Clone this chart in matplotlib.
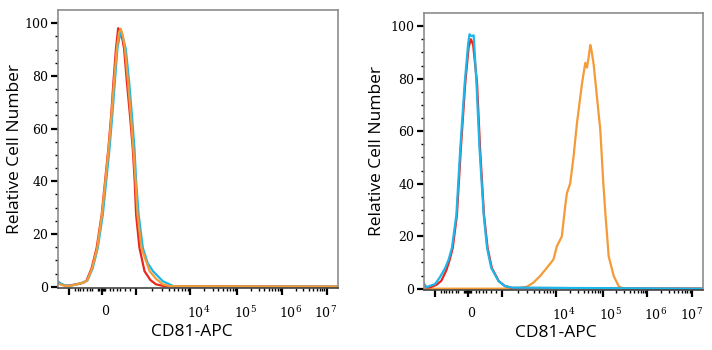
"""CD81-APC histogramas (dos paneles)"""
import matplotlib.pyplot as plt
import numpy as np

# posiciones de las decadas en unidades de canal (eje biexponencial)
decadas = [40, 156, 278, 472, 640, 801, 959]
etiquetas = ["0", "$\\mathregular{10^{4}}$", "$\\mathregular{10^{5}}$",
             "$\\mathregular{10^{6}}$", "$\\mathregular{10^{7}}$"]
pos_etiquetas = [156, 472, 640, 801, 959]

# panel izquierdo
rojo1_x = [0, 10, 30, 60, 90, 102, 120, 138, 156, 168, 180, 190, 198, 207, 215,
           222, 230, 236, 246, 257, 267, 274, 279, 291, 309, 330, 350, 380, 1000]
rojo1_y = [1.8, 1.0, 0.3, 0.8, 1.5, 2.3, 7, 14.7, 27.3, 39.9, 52.5, 65.1, 77.7, 90.3, 98.1,
           96, 94, 90.3, 77.7, 65.1, 52.5, 39.9, 27.3, 14.7, 5.9, 2.5, 0.9, 0.2, 0]
cian1_x = [0, 10, 25, 50, 80, 105, 124, 142, 160, 172, 184, 194, 203, 212, 220,
           227, 233, 242, 254, 264, 273, 279, 288, 303, 320, 339, 374, 400, 417, 1000]
cian1_y = [2.0, 1.2, 0.4, 0.5, 1.2, 2.3, 7, 14.7, 27.3, 39.9, 52.5, 65.1, 77.7, 90.3, 95,
           96.6, 94, 90.3, 77.7, 65.1, 52.5, 39.9, 27.3, 14.7, 9, 5.9, 2.1, 0.8, 0, 0]
naranja1_x = [0, 15, 35, 60, 90, 104, 122, 140, 157, 169, 181, 191, 200, 210, 218,
              224, 232, 239, 250, 260, 269, 277, 284, 298, 327, 350, 374, 400, 1000]
naranja1_y = [1.2, 0.6, 0.2, 0.7, 1.5, 2.3, 7, 14.7, 27.3, 39.9, 52.5, 65.1, 77.7, 90.3, 96.5,
              97.9, 95, 90.3, 77.7, 65.1, 52.5, 39.9, 27.3, 14.7, 5.9, 3, 0.9, 0.2, 0]

# panel derecho
rojo2_x = [0, 10, 25, 45, 62, 80, 92, 103, 118, 132, 148, 160, 168, 176,
           190, 201, 215, 228, 243, 268, 290, 315, 1000]
rojo2_y = [1.5, 0.4, 0.6, 1.5, 3, 7, 11, 15.5, 28.1, 53.3, 78.5, 92, 95, 93,
           78.5, 53.3, 28.1, 15.5, 7.9, 2.9, 1, 0.3, 0]
cian2_x = [0, 8, 20, 40, 56, 76, 88, 100, 116, 130, 146, 158, 163, 170, 178,
           188, 199, 214, 226, 241, 267, 290, 315, 1000]
cian2_y = [2, 0.6, 1.0, 1.8, 4.2, 7.9, 11, 15.5, 28.1, 53.3, 78.5, 93, 96.9, 96.2, 96.5,
           78.5, 53.3, 28.1, 15.5, 7.9, 2.9, 1, 0.4, 0]
naranja2_x = [0, 306, 344, 368, 392, 416, 440, 464, 476, 494, 506, 512, 524, 536, 548,
              560, 566, 578, 584, 590, 596, 600, 608, 620, 632, 642, 650, 662, 680,
              698, 716, 1000]
naranja2_y = [0, 0, 0.3, 0.7, 2.3, 4.8, 7.9, 11.1, 16.1, 19.9, 31.3, 36.3, 40.1, 50.2, 62.8,
              72.9, 77.9, 86, 84.2, 88, 92.8, 91, 85.5, 72.9, 60.3, 41.4, 28.8, 12.3, 4.8,
              0.9, 0, 0]

ROJO = "#e8261f"
NARANJA = "#f49a36"
CIAN = "#1bb6ea"

plt.rcParams["mathtext.fontset"] = "dejavuserif"

# ticks menores del eje x
menores = [61, 70, 79, 89, 102, 114, 123, 143, 148, 152, 160, 164, 169,
           186, 196, 210, 221, 239, 257]
for a, b in zip(decadas[2:-1], decadas[3:]):
    menores += list(a + (b - a) * np.log10(np.arange(2, 10)))


def estilo(ax, xlab, ylab):
    ax.set_xlim(0, 1000)
    ax.set_ylim(-0.5, 105)
    for lado in ["left", "top", "right"]:
        ax.spines[lado].set_color("#8c8c8c")
        ax.spines[lado].set_linewidth(1.2)
    ax.spines["bottom"].set_color("#444444")
    ax.spines["bottom"].set_linewidth(1.2)
    ax.set_yticks([0, 20, 40, 60, 80, 100])
    ax.set_yticks(np.arange(0, 101, 5), minor=True)
    ax.set_xticks(decadas)
    ax.set_xticks(menores, minor=True)
    ax.set_xticklabels([])
    ax.tick_params(axis="both", which="major", length=5, width=1.6, color="black")
    ax.tick_params(axis="both", which="minor", length=2.5, width=1, color="black")
    ax.tick_params(axis="y", labelsize=9, pad=2)
    for t in ax.get_yticklabels():
        t.set_fontfamily("DejaVu Serif")
    tr = ax.get_xaxis_transform()
    for p, e in zip(pos_etiquetas, etiquetas):
        dx = {156: 12, 472: 30, 640: 30, 801: 28, 959: -2}[p]
        ax.text(p + dx, -0.062, e, transform=tr, ha="center", va="top",
                fontsize=9, family="DejaVu Serif")
    ax.set_ylabel("Relative Cell Number", fontsize=12.5, family="Open Sans")
    ax.set_xlabel("CD81-APC", fontsize=12.5, family="Open Sans")
    ax.xaxis.set_label_coords(xlab, -0.128)
    ax.yaxis.set_label_coords(ylab, 0.5)


fig = plt.figure(figsize=(7.12, 3.5), dpi=100)
ax1 = fig.add_axes([58 / 712, 62 / 350, 280 / 712, 278 / 350])
ax2 = fig.add_axes([424 / 712, 60 / 350, 279 / 712, 277 / 350])

ax1.plot(rojo1_x, rojo1_y, color=ROJO, lw=1.6)
ax1.plot(cian1_x, cian1_y, color=CIAN, lw=1.6)
ax1.plot(naranja1_x, naranja1_y, color=NARANJA, lw=1.6)
estilo(ax1, 0.479, -0.125)

ax2.plot(naranja2_x, naranja2_y, color=NARANJA, lw=1.6)
ax2.plot(rojo2_x, rojo2_y, color=ROJO, lw=1.6)
ax2.plot(cian2_x, cian2_y, color=CIAN, lw=1.6)
estilo(ax2, 0.473, -0.138)

fig.savefig("out.png", dpi=100)
